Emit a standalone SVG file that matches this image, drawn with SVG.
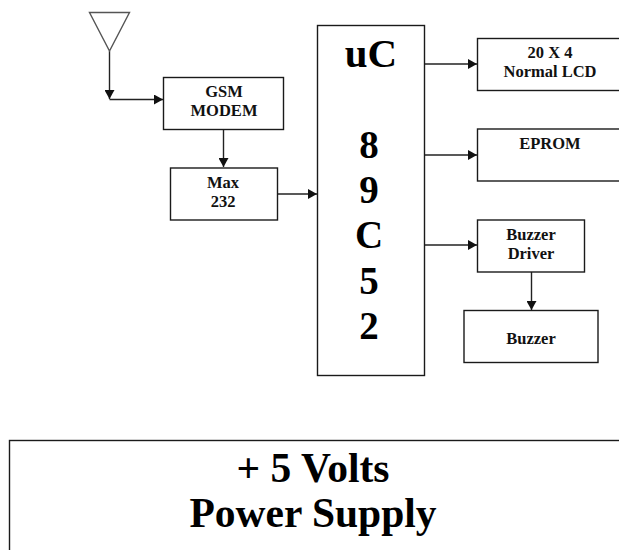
<svg xmlns="http://www.w3.org/2000/svg" width="619" height="550" viewBox="0 0 619 550">
<defs>
<style>
rect,.box{fill:#fff;stroke:#1a1a1a;stroke-width:1.4}
.c{fill:none;stroke:#222;stroke-width:1.4}
text{font-family:"Liberation Serif","Times New Roman",serif;font-weight:bold;text-anchor:middle;fill:#111}
.s{font-size:16.5px}
.m{font-size:39px;fill:#000}
.u{font-size:41px;fill:#000}
.p{font-size:41.500px;fill:#000}
</style>
<marker id="a" markerUnits="userSpaceOnUse" markerWidth="10" markerHeight="10" refX="9" refY="5" orient="auto"><path d="M0 0L9 5L0 10Z" fill="#111"/></marker>
</defs>
<rect width="619" height="550" style="fill:#fff;stroke:none"/>
<g id="connectors">
<path class="c" d="M109.500 51V99" marker-end="url(#a)"/>
<path class="c" d="M109.500 99.500H163" marker-end="url(#a)"/>
<path class="c" d="M223.500 129V167" marker-end="url(#a)"/>
<path class="c" d="M277 194H317" marker-end="url(#a)"/>
<path class="c" d="M425 64H477" marker-end="url(#a)"/>
<path class="c" d="M425 155H477" marker-end="url(#a)"/>
<path class="c" d="M425 245H477" marker-end="url(#a)"/>
<path class="c" d="M531.500 272V310" marker-end="url(#a)"/>
</g>
<g id="antenna"><path class="box" d="M89.500 12.500H129.500L109.500 51Z" style="stroke:#555"/></g>
<g id="gsm"><rect x="163.500" y="77.500" width="120" height="52"/><text class="s" x="224" y="97">GSM</text><text class="s" x="224" y="116">MODEM</text></g>
<g id="max232"><rect x="170.500" y="168" width="107" height="52"/><text class="s" x="223" y="188">Max</text><text class="s" x="223" y="207">232</text></g>
<g id="uc"><rect x="317.500" y="25.500" width="107" height="350"/>
<text class="u" x="371" y="67">uC</text><text class="m" x="369" y="158">8</text><text class="m" x="369" y="203">9</text><text class="m" x="369" y="248">C</text><text class="m" x="369" y="294">5</text><text class="m" x="369" y="339">2</text></g>
<g id="lcd"><rect x="477.500" y="38.500" width="145" height="52"/><text class="s" x="550" y="58">20 X 4</text><text class="s" x="550" y="77">Normal LCD</text></g>
<g id="eprom"><rect x="477.500" y="129" width="145" height="52"/><text class="s" x="550" y="149">EPROM</text></g>
<g id="driver"><rect x="477.500" y="220" width="107" height="52"/><text class="s" x="531" y="240">Buzzer</text><text class="s" x="531" y="259">Driver</text></g>
<g id="buzzer"><rect x="464" y="310.500" width="134" height="52"/><text class="s" x="531" y="344">Buzzer</text></g>
<g id="power"><rect x="9.500" y="440.500" width="620" height="120"/><text class="p" x="313" y="482">+ 5 Volts</text><text class="p" x="313" y="527">Power Supply</text></g>
</svg>
